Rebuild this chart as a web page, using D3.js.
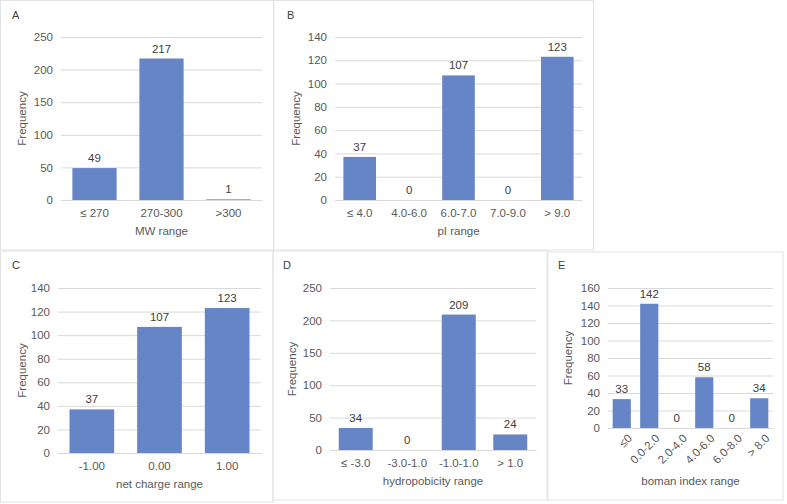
<!DOCTYPE html>
<html><head><meta charset="utf-8">
<script src="https://cdn.jsdelivr.net/npm/d3@7"></script>
<style>
html,body{margin:0;padding:0;background:#fff;}
svg{display:block;font-family:"Liberation Sans",Arial,sans-serif;}
</style></head>
<body><svg id="c" width="787" height="504"></svg>
<script>
// ---- data ----
const catsA = ["≤ 270", "270-300", ">300"];
const valsA = [49, 217, 1];
const ticksA = [0, 50, 100, 150, 200, 250];

const catsB = ["≤ 4.0", "4.0-6.0", "6.0-7.0", "7.0-9.0", "> 9.0"];
const valsB = [37, 0, 107, 0, 123];
const ticksB = [0, 20, 40, 60, 80, 100, 120, 140];

const catsC = ["-1.00", "0.00", "1.00"];
const valsC = [37, 107, 123];
const ticksC = [0, 20, 40, 60, 80, 100, 120, 140];

const catsD = ["≤ -3.0", "-3.0-1.0", "-1.0-1.0", "> 1.0"];
const valsD = [34, 0, 209, 24];
const ticksD = [0, 50, 100, 150, 200, 250];

const catsE = ["≤0", "0.0-2.0", "2.0-4.0", "4.0-6.0", "6.0-8.0", "> 8.0"];
const valsE = [33, 142, 0, 58, 0, 34];
const ticksE = [0, 20, 40, 60, 80, 100, 120, 140, 160];

const titles = {A:"MW range", B:"pI range", C:"net charge range", D:"hydropobicity range", E:"boman index range"};

// ---- layout ----
const svg = d3.select("#c");
const BAR = "#6585c7", GRID = "#d9d9d9", TXT = "#595959", DARK = "#404040";

const panels = [
  {id:"A", cats:catsA, vals:valsA, ticks:ticksA, box:[0.5,0.5,273.5,250], x0:61, x1:262, y0:37, y1:200, lx:12, ly:19, yt:22, rot:false},
  {id:"B", cats:catsB, vals:valsB, ticks:ticksB, box:[274,0.5,593.5,250], x0:335, x1:582, y0:37, y1:200, lx:287, ly:19, yt:296, rot:false},
  {id:"C", cats:catsC, vals:valsC, ticks:ticksC, box:[0.5,251,273,502], x0:58, x1:261, y0:288, y1:453, lx:12, ly:269, yt:22, rot:false},
  {id:"D", cats:catsD, vals:valsD, ticks:ticksD, box:[273,251,547,500], x0:330, x1:536, y0:288, y1:450, lx:283, ly:269, yt:292, rot:false},
  {id:"E", cats:catsE, vals:valsE, ticks:ticksE, box:[548,252,783,500], x0:608, x1:773, y0:288, y1:428, lx:558, ly:269, yt:568, rot:true}
];

panels.forEach(p => {
  const g = svg.append("g");
  const [bx0,by0,bx1,by1] = p.box;
  g.append("rect").attr("x",bx0).attr("y",by0).attr("width",bx1-bx0).attr("height",by1-by0)
    .attr("fill","none").attr("stroke","#e3e3e3").attr("stroke-width",1);

  const x = d3.scaleBand().domain(p.cats).range([p.x0,p.x1]).paddingInner(0.34).paddingOuter(0.17);
  const y = d3.scaleLinear().domain([0, d3.max(p.ticks)]).range([p.y1,p.y0]);

  // grid
  const ya = d3.axisLeft(y).tickValues(p.ticks).tickSize(-(p.x1-p.x0)).tickPadding(8);
  const ag = g.append("g").attr("transform",`translate(${p.x0},0)`).call(ya);
  ag.select(".domain").remove();
  ag.selectAll(".tick line").attr("stroke",GRID);
  ag.selectAll(".tick text").attr("fill",TXT).style("font-size","11.5px").attr("font-family","Liberation Sans, Arial, sans-serif");

  // bars
  g.selectAll("rect.bar").data(p.cats).enter().append("rect").attr("class","bar")
    .attr("x",d=>x(d)).attr("width",x.bandwidth())
    .attr("y",(d,i)=>y(p.vals[i])).attr("height",(d,i)=>p.y1-y(p.vals[i]))
    .attr("fill",BAR);

  // value labels
  g.selectAll("text.val").data(p.cats).enter().append("text")
    .attr("x",d=>x(d)+x.bandwidth()/2).attr("y",(d,i)=>y(p.vals[i])-6)
    .attr("text-anchor","middle").attr("fill",DARK).style("font-size","11.5px")
    .text((d,i)=>p.vals[i]);

  // x axis
  const xa = d3.axisBottom(x).tickSize(0).tickPadding(9);
  const xg = g.append("g").attr("transform",`translate(0,${p.y1})`).call(xa);
  xg.select(".domain").attr("stroke",GRID);
  xg.selectAll(".tick text").attr("fill",TXT).style("font-size","11.5px").attr("font-family","Liberation Sans, Arial, sans-serif");
  if (p.rot) {
    xg.selectAll(".tick text").attr("text-anchor","end").attr("dy","0.35em")
      .attr("transform","translate(4,4) rotate(-45)").attr("y",6).attr("x",0);
  }

  // x title
  g.append("text").attr("x",(p.x0+p.x1)/2).attr("y", p.rot ? 485 : p.y1+35)
    .attr("text-anchor","middle").attr("fill",TXT).style("font-size","11.5px").text(titles[p.id]);

  // y title
  g.append("text").attr("transform",`translate(${p.yt},${(p.y0+p.y1)/2}) rotate(-90)`)
    .attr("text-anchor","middle").attr("dy","0.35em").attr("fill",TXT).style("font-size","11.5px").text("Frequency");

  // panel letter
  g.append("text").attr("x",p.lx).attr("y",p.ly).attr("fill",DARK).style("font-size","11px").text(p.id);
});
</script></body></html>
